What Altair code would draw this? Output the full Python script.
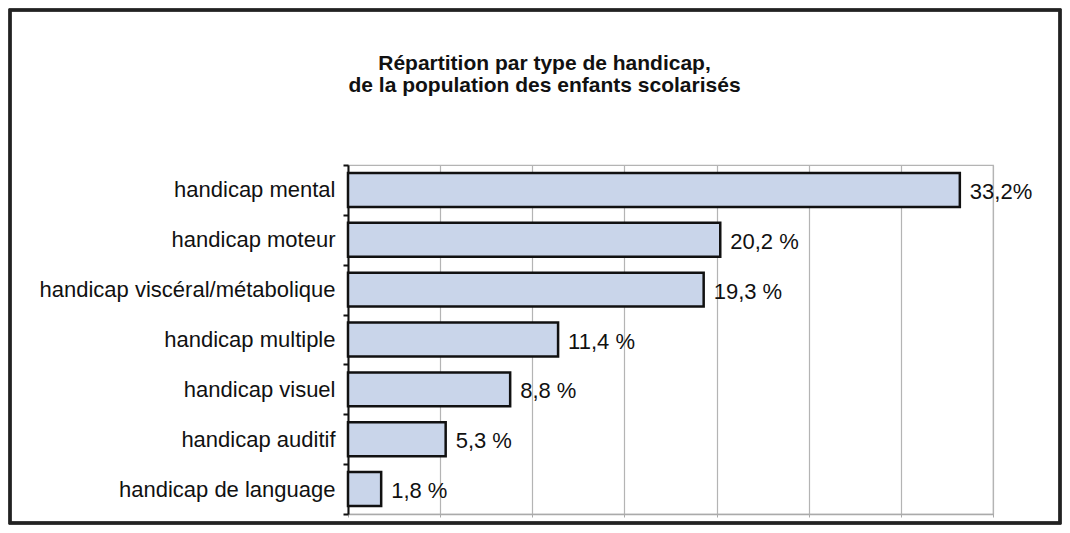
import altair as alt
import pandas as pd

categories = [
    "handicap mental",
    "handicap moteur",
    "handicap viscéral/métabolique",
    "handicap multiple",
    "handicap visuel",
    "handicap auditif",
    "handicap de language",
]
values = [33.2, 20.2, 19.3, 11.4, 8.8, 5.3, 1.8]
value_labels = ["33,2%", "20,2 %", "19,3 %", "11,4 %", "8,8 %", "5,3 %", "1,8 %"]
title_lines = [
    "Répartition par type de handicap,",
    "de la population des enfants scolarisés",
]

df = pd.DataFrame({"cat": categories, "val": values, "lab": value_labels})

W, H = 645, 349
FONT = "Liberation Sans"

y_enc = alt.Y(
    "cat:N",
    sort=categories,
    title=None,
    scale=alt.Scale(paddingInner=0, paddingOuter=0),
    axis=alt.Axis(
        tickBand="extent",
        tickSize=5,
        tickWidth=2,
        tickColor="#111111",
        domainColor="#111111",
        domainWidth=2,
        labelPadding=8,
        labelFontSize=22,
        labelColor="#111111",
        labelFont=FONT,
        labelLimit=0,
        grid=False,
    ),
)
x_enc = alt.X(
    "val:Q",
    title=None,
    scale=alt.Scale(domain=[0, 35], nice=False),
    axis=alt.Axis(
        values=[0, 5, 10, 15, 20, 25, 30, 35],
        labels=False,
        tickSize=3,
        tickColor="#aaaaaa",
        domainColor="#aaaaaa",
        domainWidth=1.5,
        gridColor="#b4b4b4",
        gridWidth=1.2,
    ),
)

frame = alt.Chart(df).mark_rect(
    fill=None, stroke="#222222", strokeWidth=2.5
).encode(
    x=alt.value(-338), x2=alt.value(W + 67),
    y=alt.value(-155), y2=alt.value(H + 9),
)

bars = alt.Chart(df).mark_bar(
    height=alt.RelativeBandSize(0.68),
    fill="#c9d5ea",
    stroke="#111111",
    strokeWidth=2.5,
).encode(x=x_enc, y=y_enc)

texts = alt.Chart(df).mark_text(
    align="left", baseline="middle", dx=10, dy=2, fontSize=22, font=FONT, color="#111111"
).encode(x="val:Q", y=alt.Y("cat:N", sort=categories), text="lab:N")

chart = alt.layer(bars, texts, frame).properties(
    width=W,
    height=H,
    title=alt.TitleParams(
        text=title_lines,
        fontSize=21,
        font=FONT,
        fontWeight="bold",
        color="#111111",
        anchor="middle",
        frame="group",
        dx=-126,
        offset=-87,
        lineHeight=22,
    ),
    autosize=alt.AutoSizeParams(type="none"),
    padding={"left": 340, "top": 157, "right": 69, "bottom": 11},
).configure_view(stroke="#b4b4b4", strokeWidth=1.2)

chart.save("out.html", embed_options={"renderer": "svg", "actions": False})
